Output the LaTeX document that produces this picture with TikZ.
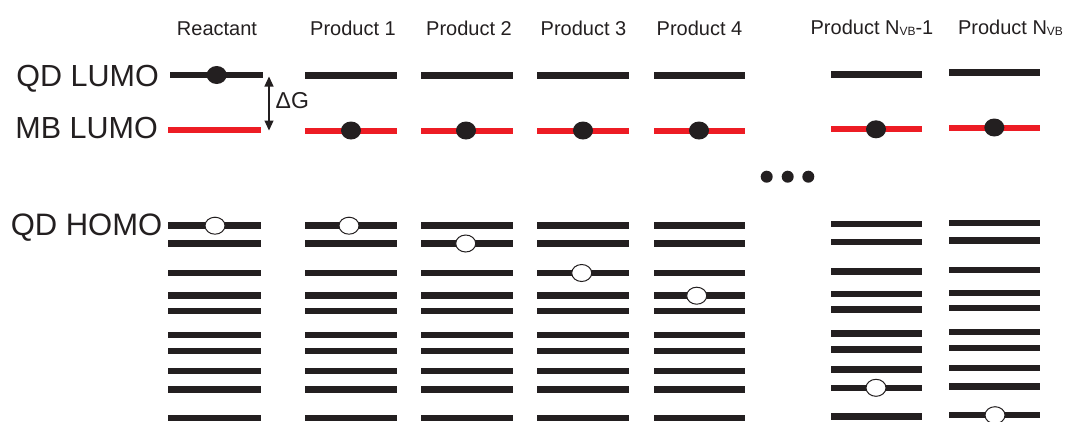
\documentclass[tikz,border=0pt]{standalone}
\usepackage{fontspec}
\setmainfont{Liberation Sans}
\usetikzlibrary{arrows.meta,shapes.geometric}
\definecolor{lvblack}{HTML}{231F20}
\definecolor{lvred}{HTML}{ED1C24}
\begin{document}
\begin{tikzpicture}[x=1pt,y=-1pt,
  level/.style={line width=6.5pt, draw=lvblack},
  mblevel/.style={line width=6pt, draw=lvred},
  electron/.style={ellipse, fill=lvblack, minimum width=20pt, minimum height=18pt, inner sep=0pt},
  hole/.style={ellipse, draw=lvblack, line width=1pt, fill=white, minimum width=20pt, minimum height=17pt, inner sep=0pt},
  header/.style={font=\fontsize{20}{24}\selectfont, anchor=base, text=lvblack, inner sep=0pt},
  sidelabel/.style={font=\fontsize{30.5}{36}\selectfont, anchor=base east, text=lvblack, inner sep=0pt},
  dot/.style={circle, fill=lvblack, minimum size=12pt, inner sep=0pt}
]
\useasboundingbox (0,0) rectangle (1069,421);

% side labels
\node[sidelabel] (qdlumo) at (159,86) {QD LUMO};
\node[sidelabel] (mblumo) at (158,138) {MB LUMO};
\node[sidelabel, font=\fontsize{31}{36}\selectfont] (qdhomo) at (162.5,235) {QD HOMO};

% column headers
\node[header] (h0) at (217,35) {Reactant};
\node[header] (h1) at (353,35) {Product 1};
\node[header] (h2) at (469,35) {Product 2};
\node[header] (h3) at (583.5,35) {Product 3};
\node[header] (h4) at (699.5,35) {Product 4};
\node[header] (h5) at (872,34) {Product N{\fontsize{12}{12}\selectfont\raisebox{-1.5pt}{VB}}-1};
\node[header] (h6) at (1010.5,34) {Product N{\fontsize{12}{12}\selectfont\raisebox{-1.5pt}{VB}}};

% reactant LUMO levels
\draw[level] (170,75) -- (262.5,75);
\draw[mblevel] (168,130) -- (261,130);
\node[electron] (e0) at (216.7,75) {};

% product LUMO levels
\foreach \name/\xl/\xr/\dy/\ex in {1/305/397/0/351, 2/421/512.5/0/466, 3/537/628.5/0/583, 4/654/745/0/699, 5/831/921.5/-1.2/876, 6/949/1040/-3/994.3}{
  \draw[level] (\xl,75.7+\dy) -- (\xr,75.7+\dy);
  \draw[mblevel] (\xl,130.5+\dy) -- (\xr,130.5+\dy);
  \node[electron] (e\name) at (\ex,130.5+\dy) {};
}

% HOMO manifolds
\foreach \name/\xl/\xr/\dy/\hl/\hx in {0/168/260.5/0/1/215, 1/305/397/0/1/349, 2/421/512.5/0/2/465.7, 3/537/628.5/0/3/581.7, 4/654/745/0/4/696.7, 5/831/921.5/-1.5/9/876, 6/949/1040/-2.8/10/995}{
  \foreach \k/\ly in {1/225.7, 2/243.5, 3/273, 4/295.7, 5/311, 6/335, 7/351, 8/371, 9/389.3, 10/418}{
    \draw[level] (\xl,\ly+\dy) -- (\xr,\ly+\dy);
    \ifnum\k=\hl
      \node[hole] (hole\name) at (\hx,\ly+\dy) {};
    \fi
  }
}

% Delta G arrow
\coordinate (dgtop) at (269,76.5);
\coordinate (dgbot) at (269,130.5);
\draw[line width=1.2pt, draw=lvblack, {Triangle[length=10pt,width=9pt]}-{Triangle[length=10pt,width=9pt]}] (dgtop) -- (dgbot);
\node[anchor=base west, inner sep=0pt, font=\fontsize{23}{26}\selectfont, text=lvblack] (dg) at (275.5,108.5) {ΔG};

% ellipsis dots
\node[dot] (d1) at (766.7,176.7) {};
\node[dot] (d2) at (787.7,176.7) {};
\node[dot] (d3) at (808.3,176.7) {};
\end{tikzpicture}
\end{document}
